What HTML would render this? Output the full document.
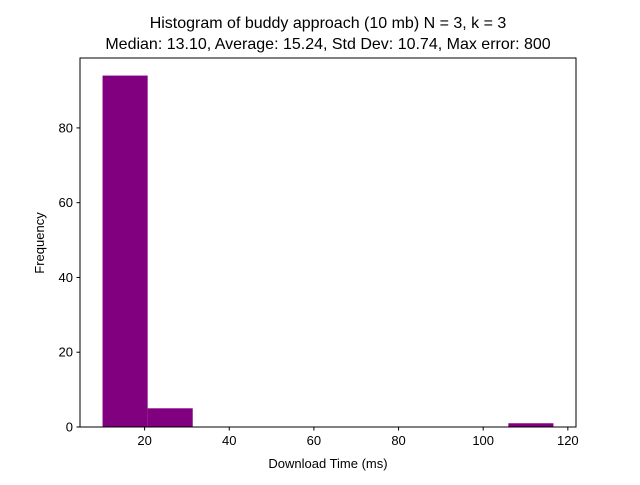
<!DOCTYPE html>
<html><head><meta charset="utf-8"><style>
body{margin:0;background:#fff;}
svg text{font-family:"Liberation Sans","DejaVu Sans",sans-serif;}
</style></head><body>
<svg id="chart" width="640" height="480" xmlns="http://www.w3.org/2000/svg">
<rect width="640" height="480" fill="#fff"/>
<text x="328" y="28" text-anchor="middle" font-size="16">Histogram of buddy approach (10 mb) N = 3, k = 3</text>
<text x="328" y="49" text-anchor="middle" font-size="16">Median: 13.10, Average: 15.24, Std Dev: 10.74, Max error: 800</text>
<g id="bars"></g>
<g id="xticks"></g>
<g id="yticks"></g>
<rect x="80" y="58" width="496" height="369" fill="none" stroke="#000" stroke-width="1"/>
<text x="328" y="468" text-anchor="middle" font-size="13">Download Time (ms)</text>
<text x="44" y="243" text-anchor="middle" font-size="13" transform="rotate(-90 44 243)">Frequency</text>
</svg>
<script>
const binStart = 10.06;
const binEnd = 116.6;
const counts = [94, 5, 0, 0, 0, 0, 0, 0, 0, 1];
const xTickValues = [20, 40, 60, 80, 100, 120];
const yTickValues = [0, 20, 40, 60, 80];
const xMin = 4.73, xMax = 121.93, yMin = 0, yMax = 98.7;
const L = 80, R = 576, T = 58, B = 427;
const NS = "http://www.w3.org/2000/svg";
function sx(v){return L + (v - xMin) / (xMax - xMin) * (R - L);}
function sy(v){return B - (v - yMin) / (yMax - yMin) * (B - T);}
const bw = (binEnd - binStart) / counts.length;
const gb = document.getElementById('bars');
counts.forEach((c, i) => {
  if (c <= 0) return;
  const r = document.createElementNS(NS, 'rect');
  const x0 = sx(binStart + i * bw), x1 = sx(binStart + (i + 1) * bw);
  r.setAttribute('x', x0); r.setAttribute('width', x1 - x0);
  r.setAttribute('y', sy(c)); r.setAttribute('height', sy(0) - sy(c));
  r.setAttribute('fill', '#800080');
  
  
  gb.appendChild(r);
});
const gx = document.getElementById('xticks');
xTickValues.forEach(v => {
  const x = sx(v);
  const l = document.createElementNS(NS, 'line');
  l.setAttribute('x1', x); l.setAttribute('x2', x); l.setAttribute('y1', B); l.setAttribute('y2', B + 3.5);
  l.setAttribute('stroke', '#000');
  
  
  gx.appendChild(l);
  const t = document.createElementNS(NS, 'text');
  t.setAttribute('x', x); t.setAttribute('y', B + 18); t.setAttribute('text-anchor', 'middle'); t.setAttribute('font-size', '13');
  t.textContent = v;
  
  
  gx.appendChild(t);
});
const gy = document.getElementById('yticks');
yTickValues.forEach(v => {
  const y = sy(v);
  const l = document.createElementNS(NS, 'line');
  l.setAttribute('x1', L - 3.5); l.setAttribute('x2', L); l.setAttribute('y1', y); l.setAttribute('y2', y);
  l.setAttribute('stroke', '#000');
  
  
  gy.appendChild(l);
  const t = document.createElementNS(NS, 'text');
  t.setAttribute('x', L - 7); t.setAttribute('y', y + 4.5); t.setAttribute('text-anchor', 'end'); t.setAttribute('font-size', '13');
  t.textContent = v;
  
  
  gy.appendChild(t);
});
</script>
</body></html>
